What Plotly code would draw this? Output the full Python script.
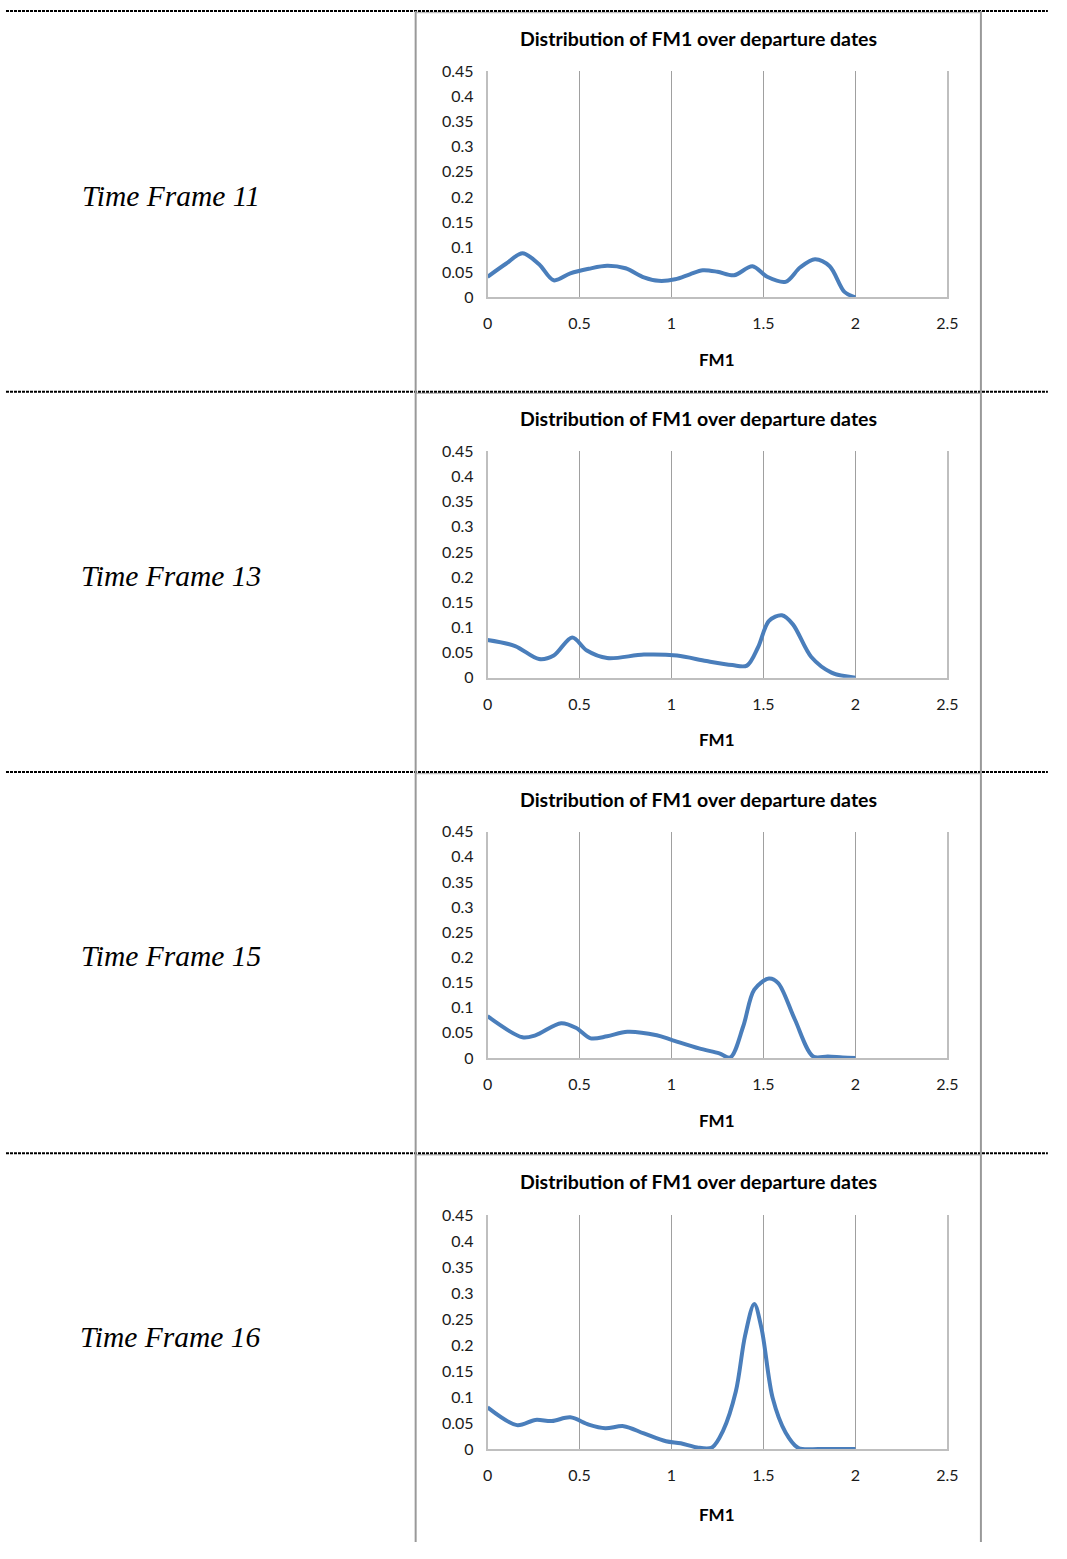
import plotly.graph_objects as go

# ---- data -----------------------------------------------------------------
frame_labels = ["Time Frame 11", "Time Frame 13", "Time Frame 15", "Time Frame 16"]

tf11_x = [0, 0.1, 0.19, 0.28, 0.36, 0.45, 0.55, 0.65, 0.75, 0.85, 0.93, 1.02,
          1.1, 1.17, 1.25, 1.34, 1.44, 1.52, 1.62, 1.7, 1.78, 1.86, 1.94, 2.0]
tf11_y = [0.041, 0.067, 0.088, 0.066, 0.034, 0.048, 0.057, 0.063, 0.058, 0.040,
          0.033, 0.036, 0.046, 0.054, 0.051, 0.044, 0.062, 0.041, 0.031, 0.060,
          0.076, 0.062, 0.011, 0.0]

tf13_x = [0, 0.15, 0.28, 0.36, 0.46, 0.54, 0.65, 0.85, 1.03, 1.19, 1.33, 1.41,
          1.47, 1.53, 1.6, 1.66, 1.76, 1.87, 2.0]
tf13_y = [0.075, 0.063, 0.037, 0.044, 0.080, 0.054, 0.039, 0.046, 0.044, 0.033,
          0.025, 0.024, 0.060, 0.113, 0.124, 0.106, 0.041, 0.010, 0.0]

tf15_x = [0, 0.19, 0.26, 0.4, 0.48, 0.56, 0.65, 0.76, 0.92, 1.0, 1.15, 1.26,
          1.32, 1.39, 1.45, 1.53, 1.58, 1.67, 1.77, 1.85, 1.93, 2.0]
tf15_y = [0.083, 0.041, 0.045, 0.069, 0.060, 0.039, 0.043, 0.052, 0.045, 0.036,
          0.019, 0.009, 0.001, 0.063, 0.136, 0.158, 0.149, 0.077, 0.003, 0.003,
          0.001, 0.0]

tf16_x = [0, 0.16, 0.26, 0.35, 0.45, 0.55, 0.64, 0.74, 0.85, 0.97, 1.05, 1.14,
          1.22, 1.28, 1.35, 1.40, 1.45, 1.49, 1.55, 1.62, 1.69, 1.8, 1.9, 2.0]
tf16_y = [0.080, 0.046, 0.056, 0.054, 0.061, 0.047, 0.040, 0.044, 0.030, 0.015,
          0.011, 0.003, 0.003, 0.035, 0.111, 0.218, 0.279, 0.231, 0.098, 0.032,
          0.002, 0.0, 0.0, 0.0]

series = [(tf11_x, tf11_y), (tf13_x, tf13_y), (tf15_x, tf15_y), (tf16_x, tf16_y)]

x_ticks = [0, 0.5, 1, 1.5, 2, 2.5]
x_tick_text = ["0", "0.5", "1", "1.5", "2", "2.5"]
y_ticks = [0, 0.05, 0.1, 0.15, 0.2, 0.25, 0.3, 0.35, 0.4, 0.45]
y_tick_text = ["0", "0.05", "0.1", "0.15", "0.2", "0.25", "0.3", "0.35", "0.4", "0.45"]

chart_title = "Distribution of FM1 over departure dates"
x_title = "FM1"

# ---- page geometry (page pixels) ----------------------------------------------
PAGE_W, PAGE_H = 1067, 1559
BODY_MARGIN = 8                      # default <body> margin of the html page
W, H = PAGE_W - 2 * BODY_MARGIN, PAGE_H - 2 * BODY_MARGIN

plot_left, plot_right = 498, 965
# (top, bottom) of each plot area
plot_rows = [(70, 299), (455, 684), (840, 1069), (1228, 1465)]
row_mid = [196, 581, 966, 1352]
title_y = [37, 422, 807, 1194]
xtitle_y = [362, 747, 1132, 1531]
separators = [9, 394.5, 779.5, 1165.5]
col_lines = [425, 999]


def px(x):
    return (x - BODY_MARGIN) / W


def py(y):
    return 1 - (y - BODY_MARGIN) / H


SANS = "Lato, 'Open Sans', sans-serif"
LINE_BLUE = "#4A7EBB"

fig = go.Figure()
layout = dict(
    width=W, height=H, autosize=False,
    margin=dict(l=0, r=0, t=0, b=0),
    paper_bgcolor="white", plot_bgcolor="white",
    showlegend=False,
    shapes=[], annotations=[],
)

for i, ((xs, ys), (top, bot)) in enumerate(zip(series, plot_rows)):
    n = "" if i == 0 else str(i + 1)
    fig.add_trace(go.Scatter(
        x=xs, y=ys, mode="lines",
        line=dict(color=LINE_BLUE, width=4, shape="spline", smoothing=0.9),
        xaxis="x" + n, yaxis="y" + n, hoverinfo="skip",
    ))
    layout["xaxis" + n] = dict(
        domain=[px(plot_left), px(plot_right)], anchor="y" + n,
        range=[0, 2.5], tickvals=x_ticks, ticktext=x_tick_text,
        showgrid=True, gridcolor="#A0A0A0", gridwidth=1,
        showline=True, linecolor="#BFBFBF", linewidth=1.5,
        zeroline=False, ticks="", ticklabelstandoff=11,
        tickfont=dict(family=SANS, size=16, color="#1a1a1a"),
    )
    layout["yaxis" + n] = dict(
        domain=[py(bot), py(top)], anchor="x" + n,
        range=[0, 0.45], tickvals=y_ticks, ticktext=y_tick_text,
        showgrid=False, showline=True, mirror=True,
        linecolor="#BFBFBF", linewidth=1.5,
        zeroline=False, ticks="", ticklabelstandoff=9,
        tickfont=dict(family=SANS, size=16, color="#1a1a1a"),
    )
    # chart title
    layout["annotations"].append(dict(
        text="<b>" + chart_title + "</b>", x=px(712), y=py(title_y[i]),
        xref="paper", yref="paper", showarrow=False,
        xanchor="center", yanchor="middle",
        font=dict(family=SANS, size=19.5, color="#000000"),
    ))
    # x-axis title
    layout["annotations"].append(dict(
        text="<b>" + x_title + "</b>", x=px((plot_left + plot_right) / 2),
        y=py(xtitle_y[i]), xref="paper", yref="paper", showarrow=False,
        xanchor="center", yanchor="middle",
        font=dict(family=SANS, size=17, color="#000000"),
    ))
    # row label in the left column
    layout["annotations"].append(dict(
        text="<i>" + frame_labels[i] + "</i>", x=px(176.5), y=py(row_mid[i]),
        xref="paper", yref="paper", showarrow=False,
        xanchor="center", yanchor="middle",
        font=dict(family="'Liberation Serif', 'DejaVu Serif', serif",
                  size=29.5, color="#000000"),
    ))

# table rules: dotted row separators and grey column lines
for sy in separators:
    layout["shapes"].append(dict(
        type="line", xref="paper", yref="paper",
        x0=px(col_lines[0]), x1=px(col_lines[1]), y0=py(sy + 1.5), y1=py(sy + 1.5),
        line=dict(color="#BFBFBF", width=1.5),
    ))
    layout["shapes"].append(dict(
        type="line", xref="paper", yref="paper",
        x0=px(9), x1=px(PAGE_W), y0=py(sy), y1=py(sy),
        line=dict(color="#000000", width=2, dash="3px,1px"),
    ))
for cx in col_lines:
    layout["shapes"].append(dict(
        type="line", xref="paper", yref="paper",
        x0=px(cx), x1=px(cx), y0=py(separators[0]), y1=py(PAGE_H),
        line=dict(color="#999999", width=2),
    ))

fig.update_layout(**layout)
fig.write_html("out.html")
